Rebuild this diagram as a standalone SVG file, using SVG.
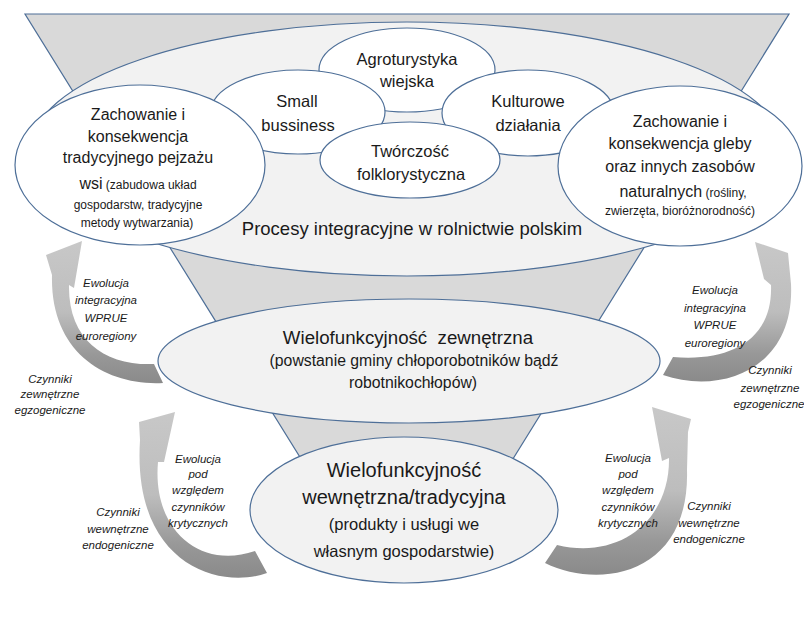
<svg xmlns="http://www.w3.org/2000/svg" width="804" height="632" viewBox="0 0 804 632">
<defs>
<linearGradient id="arrowGrad" x1="0" y1="0" x2="0" y2="1">
<stop offset="0" stop-color="#c8c8c8"/>
<stop offset="0.5" stop-color="#bdbdbd"/>
<stop offset="0.8" stop-color="#989898"/>
<stop offset="1" stop-color="#8a8a8a"/>
</linearGradient>
<style>
.shape{stroke:#4e6f98;stroke-width:1.2}
.white{fill:#ffffff}
.light{fill:#f2f2f2}
.t{font-family:"Liberation Sans",Arial,sans-serif;fill:#1a1a1a;text-anchor:middle}
.lab{font-family:"Liberation Sans",Arial,sans-serif;font-style:italic;font-size:11.5px;fill:#1a1a1a;text-anchor:middle}
.arrow{fill:url(#arrowGrad);stroke:none}
</style>
</defs>
<rect width="804" height="632" fill="#ffffff"/>

<g id="funnel">
<polygon class="shape" fill="#d9d9d9" points="25,14 789,14 475,520 339,520"/>
</g>

<g id="procesy">
<ellipse class="shape light" cx="407" cy="149" rx="376" ry="127"/>
<text class="t" x="412" y="235" font-size="18.5">Procesy integracyjne w rolnictwie polskim</text>
</g>

<g id="agroturystyka">
<ellipse class="shape white" cx="407" cy="70" rx="88" ry="42"/>
<text class="t" font-size="16.5"><tspan x="407" y="65">Agroturystyka</tspan><tspan x="407" y="87">wiejska</tspan></text>
</g>

<g id="small-business">
<ellipse class="shape white" cx="298" cy="112" rx="87" ry="42"/>
<text class="t" font-size="16.5"><tspan x="297" y="107">Small</tspan><tspan x="298" y="131">bussiness</tspan></text>
</g>

<g id="kulturowe">
<ellipse class="shape white" cx="528" cy="113" rx="86" ry="43"/>
<text class="t" font-size="16.5"><tspan x="528" y="107">Kulturowe</tspan><tspan x="528" y="131">działania</tspan></text>
</g>

<g id="tworczosc">
<ellipse class="shape white" cx="410" cy="160" rx="90" ry="38"/>
<text class="t" font-size="16.5"><tspan x="410" y="157">Twórczość</tspan><tspan x="411" y="180">folklorystyczna</tspan></text>
</g>

<g id="pejzaz">
<ellipse class="shape white" cx="140" cy="165" rx="125" ry="80"/>
<text class="t" font-size="16"><tspan x="138" y="120">Zachowanie i</tspan><tspan x="138" y="142">konsekwencja</tspan><tspan x="138" y="163">tradycyjnego pejzażu</tspan></text>
<text class="t" x="138" y="189" font-size="16">wsi<tspan font-size="12"> (zabudowa układ</tspan></text>
<text class="t" font-size="12"><tspan x="138" y="209">gospodarstw, tradycyjne</tspan><tspan x="137" y="227">metody wytwarzania)</tspan></text>
</g>

<g id="gleba">
<ellipse class="shape white" cx="680" cy="166" rx="122" ry="80"/>
<text class="t" font-size="16"><tspan x="680" y="127">Zachowanie i</tspan><tspan x="680" y="149">konsekwencja gleby</tspan><tspan x="680" y="172">oraz innych zasobów</tspan></text>
<text class="t" x="683" y="197" font-size="16">naturalnych<tspan font-size="12"> (rośliny,</tspan></text>
<text class="t" x="680" y="215" font-size="12">zwierzęta, bioróżnorodność)</text>
</g>

<g id="zewnetrzna">
<ellipse class="shape light" cx="409" cy="361" rx="251" ry="62"/>
<text class="t" x="408" y="344" font-size="18.7" style="white-space:pre">Wielofunkcyjność  zewnętrzna</text>
<text class="t" font-size="15.8"><tspan x="414" y="366">(powstanie gminy chłoporobotników bądź</tspan><tspan x="413" y="388">robotnikochłopów)</tspan></text>
</g>

<g id="wewnetrzna">
<ellipse class="shape light" cx="404" cy="510" rx="154" ry="73"/>
<text class="t" font-size="20"><tspan x="404" y="477">Wielofunkcyjność</tspan><tspan x="404" y="504">wewnętrzna/tradycyjna</tspan></text>
<text class="t" font-size="16.5"><tspan x="404" y="530">(produkty i usługi we</tspan><tspan x="404" y="557">własnym gospodarstwie)</tspan></text>
</g>

<g id="connectors">
<path class="arrow" d="M163,383 C105,386 50,352 52,275 L46,255 L82,241 L74,288 L69,285 C68,340 105,366 154,364 Z"/>
<path class="arrow" d="M663,375 C720,395 795,370 791,284 L788,253 L755,242 L764,279 L771,285 C773,340 730,362 673,357 Z"/>
<path class="arrow" d="M267,573 C220,590 132,565 140,440 L139,422 L175,412 L164,462 L158,462 C152,530 200,570 255,551 Z"/>
<path class="arrow" d="M545,563 C600,590 690,575 687,470 L688,432 L691,419 L652,407 L662,461 L669,458 C670,520 620,560 557,545 Z"/>
<text class="lab"><tspan x="106" y="287">Ewolucja</tspan><tspan x="106" y="304">integracyjna</tspan><tspan x="106" y="322">WPRUE</tspan><tspan x="106" y="340">euroregiony</tspan></text>
<text class="lab"><tspan x="50" y="383">Czynniki</tspan><tspan x="50" y="398">zewnętrzne</tspan><tspan x="50" y="414">egzogeniczne</tspan></text>
<text class="lab"><tspan x="715" y="294">Ewolucja</tspan><tspan x="715" y="312">integracyjna</tspan><tspan x="715" y="329">WPRUE</tspan><tspan x="715" y="347">euroregiony</tspan></text>
<text class="lab"><tspan x="770" y="374">Czynniki</tspan><tspan x="770" y="392">zewnętrzne</tspan><tspan x="769" y="408">egzogeniczne</tspan></text>
<text class="lab"><tspan x="198" y="463">Ewolucja</tspan><tspan x="198" y="478">pod</tspan><tspan x="198" y="494">względem</tspan><tspan x="198" y="511">czynników</tspan><tspan x="198" y="527">krytycznych</tspan></text>
<text class="lab"><tspan x="118" y="516">Czynniki</tspan><tspan x="118" y="533">wewnętrzne</tspan><tspan x="118" y="549">endogeniczne</tspan></text>
<text class="lab"><tspan x="628" y="462">Ewolucja</tspan><tspan x="628" y="478">pod</tspan><tspan x="628" y="494">względem</tspan><tspan x="628" y="511">czynników</tspan><tspan x="628" y="527">krytycznych</tspan></text>
<text class="lab"><tspan x="709" y="510">Czynniki</tspan><tspan x="709" y="527">wewnętrzne</tspan><tspan x="709" y="543">endogeniczne</tspan></text>
</g>
</svg>
